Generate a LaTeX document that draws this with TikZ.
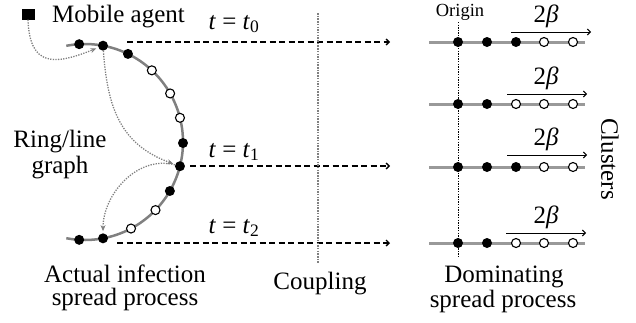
\documentclass[tikz,border=0pt]{standalone}
\usepackage{fontspec}
\setmainfont{Liberation Serif}
\usetikzlibrary{arrows.meta}
\begin{document}
\begin{tikzpicture}[x=1pt,y=-1pt,
 bdot/.style={circle,fill=black,inner sep=0pt,minimum size=10pt},
 wdot/.style={circle,draw=black,fill=white,line width=1.1pt,inner sep=0pt,minimum size=9pt},
 txt/.style={font=\fontsize{25}{25}\selectfont,inner sep=0pt,anchor=base},
 smalltxt/.style={font=\fontsize{18.5}{18.5}\selectfont,inner sep=0pt,anchor=base},
 timeline/.style={line width=1.3pt,dash pattern=on 6pt off 3.5pt,-{Straight Barb[length=3pt,width=6pt,line width=1.3pt]}},
 hop/.style={draw=gray,line width=1.3pt,dash pattern=on 1.3pt off 1.3pt,shorten >=2pt,-{Stealth[length=6pt,width=5pt,fill=gray]}},
 ring/.style={draw=gray,line width=2.5pt},
 clusterline/.style={draw=black!40,line width=3pt},
 span/.style={line width=1pt,-{Straight Barb[length=3pt,width=6pt]}},
]
\useasboundingbox (0,0) rectangle (636,322);

% ---- ring / line graph (actual process)
\draw[ring] plot[domain=101:-101,samples=90] ({85+98*cos(\x)},{142-98*sin(\x)});
\foreach \a/\s/\n in {93.4/bdot/1,79.4/bdot/2,64/bdot/3,47/wdot/4,29.7/wdot/5,14.3/wdot/6,-0.6/bdot/7,-14.3/bdot/8,-30/bdot/9,-44/wdot/10,-62/wdot/11,-79.4/bdot/12,-93.4/bdot/13}
  \node[\s] (c\n) at ({85+98*cos(\a)},{142-98*sin(\a)}) {};

% ---- mobile agent
\node[fill=black,minimum width=13pt,minimum height=11pt,inner sep=0pt] (agent) at (28,14) {};
\node[txt,anchor=base west] (agentlbl) at (52,22) {Mobile agent};

\draw[hop] (agent.south) to[out=-88,in=202,looseness=1.6] (c2);
\draw[hop] (c2) to[out=-86,in=160,looseness=1.1] (c8);
\draw[hop] (c8) to[out=165,in=90] (c12);

% ---- time lines
\coordinate (s0) at (127,42);  \coordinate (e0) at (390,42);
\coordinate (s1) at (190,166); \coordinate (e1) at (390,166);
\coordinate (s2) at (117,243); \coordinate (e2) at (390,243);
\draw[timeline] (s0) -- (e0);
\draw[timeline] (s1) -- (e1);
\draw[timeline] (s2) -- (e2);
\node[txt] (lt0) at (234,29) {\textit{t} = \textit{t}\textsubscript{0}};
\node[txt] (lt1) at (234,157) {\textit{t} = \textit{t}\textsubscript{1}};
\node[txt] (lt2) at (234,233) {\textit{t} = \textit{t}\textsubscript{2}};

% ---- coupling
\coordinate (cpt) at (318,13); \coordinate (cpb) at (318,263);
\draw[draw=gray,line width=1.5pt,dash pattern=on 1.5pt off 1.2pt] (cpt) -- (cpb);
\node[txt] (coupling) at (320,289) {Coupling};

% ---- left labels
\node[txt] (ring1) at (60,147) {Ring/line};
\node[txt] (ring2) at (60,173) {graph};
\node[txt] (act1) at (125,282) {Actual infection};
\node[txt] (act2) at (125,305) {spread process};

% ---- dominating process
\coordinate (ot) at (458,22); \coordinate (ob) at (458,257);
\foreach \r/\y in {1/42,2/104,3/167,4/243}{
  \coordinate (rl\r) at (429,\y); \coordinate (rr\r) at (585,\y);
  \draw[clusterline] (rl\r) -- (rr\r);
}
\draw[line width=1pt,dash pattern=on 1.3pt off 1.3pt] (ot) -- (ob);
\foreach \r/\y/\fa/\fb/\fc in {1/42/bdot/bdot/bdot,2/104/bdot/wdot/wdot,3/167/bdot/bdot/bdot,4/243/bdot/wdot/wdot}{
  \node[bdot] (d\r a) at (458,\y) {};
  \node[\fa] (d\r b) at (487,\y) {};
  \node[\fb] (d\r c) at (516,\y) {};
  \node[wdot] (d\r d) at (544,\y) {};
  \node[wdot] (d\r e) at (573,\y) {};
}
\foreach \r/\y/\xa/\xb in {1/32/511/591,2/94/507/587,3/155/507/587,4/233/506/586}{
  \coordinate (sa\r) at (\xa,\y); \coordinate (sb\r) at (\xb,\y);
  \draw[span] (sa\r) -- (sb\r);
  \node[txt] (beta\r) at (546,\y-10) {2\textit{β}};
}
\node[smalltxt] (origin) at (460,16) {Origin};
\node[txt,rotate=-90,anchor=center] (clusters) at (610,159) {Clusters};
\node[txt] (dom1) at (504,282) {Dominating};
\node[txt] (dom2) at (503,307) {spread process};
\end{tikzpicture}
\end{document}
